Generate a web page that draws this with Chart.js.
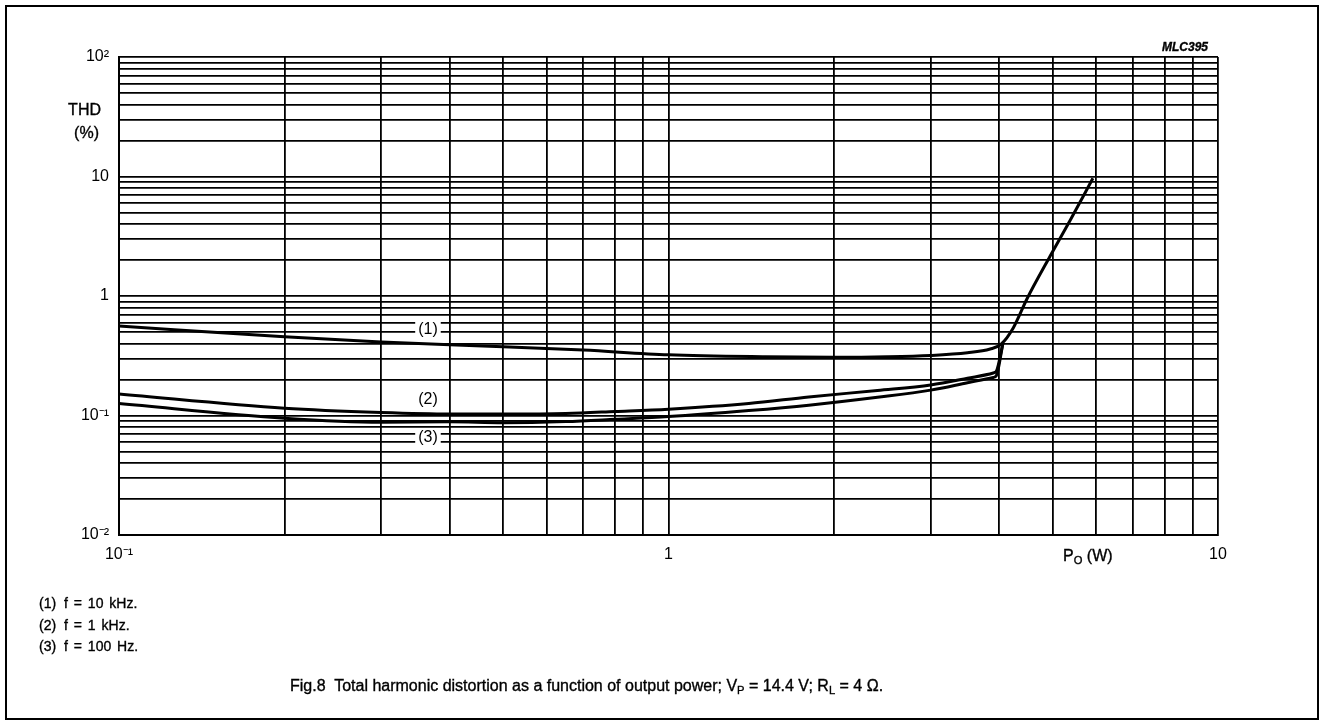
<!DOCTYPE html>
<html><head><meta charset="utf-8">
<script src="https://cdn.jsdelivr.net/npm/chart.js@4.4.0/dist/chart.umd.min.js"></script>
<style>
html,body{margin:0;padding:0;background:#fff;width:1325px;height:726px;overflow:hidden;font-family:"Liberation Sans",Arial,sans-serif;color:#000}
#frame{position:absolute;left:5px;top:5px;width:1314px;height:715px;border:2px solid #000;box-sizing:border-box}
#wrap{position:absolute;left:0;top:0;width:1325px;height:726px}
.t{position:absolute;white-space:nowrap;line-height:1;-webkit-text-stroke:0.35px #000}
.n{display:inline-block;width:25px}
sub{font-size:70%;vertical-align:-0.25em;line-height:0}
</style></head><body>
<div id="frame"></div>
<div id="wrap"><canvas id="c" width="1325" height="726"></canvas></div>
<div class="t" style="right:1224px;top:102px;font-size:16px">THD</div>
<div class="t" style="right:1226px;top:125px;font-size:16px">(%)</div>
<div class="t" style="right:117px;top:41px;font-size:12px;font-style:italic;font-weight:bold">MLC395</div>
<div class="t" style="left:1063px;top:548px;font-size:16px">P<sub>O</sub> (W)</div>
<div class="t" style="left:39px;top:596px;font-size:14px;word-spacing:2px"><span class="n">(1)</span>f = 10 kHz.</div>
<div class="t" style="left:39px;top:618px;font-size:14px;word-spacing:2px"><span class="n">(2)</span>f = 1 kHz.</div>
<div class="t" style="left:39px;top:639px;font-size:14px;word-spacing:2px"><span class="n">(3)</span>f = 100 Hz.</div>
<div class="t" style="left:290px;top:678px;font-size:16px">Fig.8&nbsp; Total harmonic distortion as a function of output power; V<sub>P</sub> = 14.4 V; R<sub>L</sub> = 4 Ω.</div>
<script>
// ---- data ----
const power10k = [0.1,0.2,0.3,0.4,0.5,0.7,1,1.5,2,2.5,3,3.5,3.85,4.03,4.24,4.49,4.95,5.38,5.92];
const thd10k   = [0.561,0.455,0.412,0.39,0.377,0.353,0.322,0.31,0.307,0.31,0.318,0.335,0.36,0.395,0.54,0.944,2.16,4.28,9.66];
const power1k  = [0.1,0.2,0.3,0.4,0.5,0.65,0.8,1,1.4,1.8,2.4,3,3.5,3.9,3.95,4.06];
const thd1k    = [0.151,0.115,0.106,0.103,0.103,0.104,0.108,0.113,0.126,0.143,0.162,0.18,0.205,0.227,0.235,0.4];
const power100 = [0.1,0.2,0.3,0.4,0.5,0.65,0.8,1,1.4,1.8,2.4,3,3.5,3.9,3.95,4.06];
const thd100   = [0.126,0.095,0.088,0.0885,0.087,0.089,0.093,0.098,0.11,0.122,0.142,0.163,0.188,0.208,0.215,0.4];

const xTicks = [0.1,0.2,0.3,0.4,0.5,0.6,0.7,0.8,0.9,1,2,3,4,5,6,7,8,9,10];
const yTicks = [0.01,0.02,0.03,0.04,0.05,0.06,0.07,0.08,0.09,0.1,0.2,0.3,0.4,0.5,0.6,0.7,0.8,0.9,1,2,3,4,5,6,7,8,9,10,20,30,40,50,60,70,80,90,100];
const xLabelValues = [0.1,1,10];
const xLabelTexts  = ['10\u207B\u00B9','1','10'];
const yLabelValues = [0.01,0.1,1,10,100];
const yLabelTexts  = ['10\u207B\u00B2','10\u207B\u00B9','1','10','10\u00B2'];

const curveLabels = ['(1)','(2)','(3)'];
const curveLabelPower = [0.365,0.365,0.365];
const curveLabelThd = [0.52,0.137,0.065];

function lookup(vals, texts, v){
  for (let i=0;i<vals.length;i++){ if (Math.abs(vals[i]-v) < vals[i]*1e-6) return texts[i]; }
  return '';
}
const pts = (xs, ys) => xs.map((x,i)=>({x, y: ys[i]}));
const ds = (label, xs, ys) => ({label, data: pts(xs,ys), borderColor:'#000', borderWidth:3, pointRadius:0, showLine:true, fill:false, cubicInterpolationMode:'monotone'});

const labelPlugin = {
  id:'curveLabels',
  afterDatasetsDraw(chart){
    const ctx = chart.ctx, xs = chart.scales.x, ys = chart.scales.y;
    ctx.save();
    ctx.font = '16px "Liberation Sans", Arial, sans-serif';
    ctx.textAlign = 'center'; ctx.textBaseline = 'middle';
    curveLabels.forEach((t,i)=>{
      const px = xs.getPixelForValue(curveLabelPower[i]);
      const py = ys.getPixelForValue(curveLabelThd[i]);
      const w = ctx.measureText(t).width + 6;
      ctx.fillStyle = '#fff';
      ctx.fillRect(px - w/2, py - 8, w, 16);
      ctx.fillStyle = '#000';
      ctx.fillText(t, px, py);
    });
    ctx.restore();
  }
};

const tickFont = {family:'"Liberation Sans", Arial, sans-serif', size:16};

new Chart(document.getElementById('c'), {
  type:'scatter',
  data:{datasets:[ds('f = 10 kHz', power10k, thd10k), ds('f = 1 kHz', power1k, thd1k), ds('f = 100 Hz', power100, thd100)]},
  options:{
    responsive:false, animation:false, devicePixelRatio:1,
    layout:{padding:{left:0, top:57, right:107, bottom:151}},
    plugins:{legend:{display:false}, tooltip:{enabled:false}},
    scales:{
      x:{type:'logarithmic', min:0.1, max:10,
        afterBuildTicks: s => { s.ticks = xTicks.map(v=>({value:v})); },
        afterFit: s => { s.height = 40; },
        grid:{color:'#000', lineWidth:1.8, drawTicks:false},
        border:{display:true, color:'#000', width:2},
        ticks:{autoSkip:false, maxRotation:0, padding:10, color:'#000', font:tickFont,
          callback: v => lookup(xLabelValues, xLabelTexts, v)}
      },
      y:{type:'logarithmic', min:0.01, max:100,
        afterBuildTicks: s => { s.ticks = yTicks.map(v=>({value:v})); },
        afterFit: s => { s.width = 119; },
        grid:{color:'#000', lineWidth:1.8, drawTicks:false},
        border:{display:true, color:'#000', width:2},
        ticks:{autoSkip:false, padding:10, color:'#000', font:tickFont,
          callback: v => lookup(yLabelValues, yLabelTexts, v)}
      }
    }
  },
  plugins:[labelPlugin]
});
</script>
</body></html>
